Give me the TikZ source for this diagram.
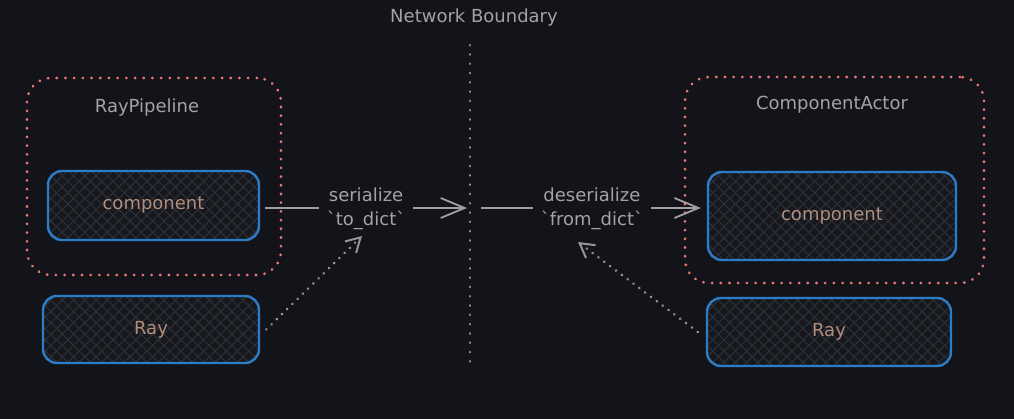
\documentclass[tikz,border=0pt]{standalone}
\usepackage{fontspec}
\newfontfamily\hand{DejaVu Sans}
\usetikzlibrary{arrows.meta,patterns.meta}
\definecolor{bg}{HTML}{121419}
\definecolor{txtgray}{HTML}{A3A3A3}
\definecolor{tan}{HTML}{B08D7C}
\definecolor{redline}{HTML}{F47474}
\definecolor{blueline}{HTML}{2C7CC8}
\definecolor{boxfill}{HTML}{16181D}
\definecolor{hatch}{HTML}{2E3137}
\definecolor{arrowgray}{HTML}{A0A0A0}
\definecolor{dotgray}{HTML}{959595}
\tikzset{
  every node/.style={font=\hand\fontsize{18}{22}\selectfont},
  container/.style={draw=redline, line width=2.8pt, line cap=round,
    dash pattern=on 0.3pt off 8.4pt, rounded corners=24pt, inner sep=0pt},
  titletext/.style={text=txtgray},
  compbox/.style={draw=blueline, line width=2.4pt, rounded corners=14pt,
    inner sep=0pt, text=tan,
    preaction={fill=boxfill},
    preaction={pattern={Lines[angle=45,distance=8pt,line width=1pt]}, pattern color=hatch},
    preaction={pattern={Lines[angle=-45,distance=8pt,line width=1pt]}, pattern color=hatch}},
  flow/.style={draw=arrowgray, line width=1.8pt,
    -{Straight Barb[length=24pt,width=20pt,line width=1.8pt]}},
  flowlabel/.style={fill=bg, text=txtgray, align=center, inner xsep=8pt, inner ysep=2pt,
    font=\hand\fontsize{18}{24}\selectfont},
  dotflow/.style={draw=dotgray, line width=2.6pt, line cap=round,
    dash pattern=on 0.3pt off 7pt,
    -{Straight Barb[length=14pt,width=16pt,line width=2pt]}},
  boundary/.style={draw=dotgray, line width=2.6pt, line cap=round, dash pattern=on 0.3pt off 9pt}
}
\begin{document}
\begin{tikzpicture}[x=1pt,y=-1pt]
\useasboundingbox[fill=bg] (0,0) rectangle (1014,419);

% network boundary
\node[titletext] (nbtitle) at (474,18) {Network Boundary};
\coordinate (btop) at (470,45);
\coordinate (bbot) at (470,370);
\draw[boundary] (btop) -- (bbot);

% left container
\node[container, minimum width=254pt, minimum height=197pt] (raypipe) at (154,176.5) {};
\node[titletext] (raypipetitle) at (147,108) {RayPipeline};
\node[compbox, minimum width=211pt, minimum height=69pt] (lcomp) at (153.5,205.5) {component};
\node[compbox, minimum width=216pt, minimum height=67pt] (lray) at (151,329.5) {Ray};

% right container
\node[container, minimum width=299pt, minimum height=206pt] (compactor) at (834.5,180) {};
\node[titletext] (compactortitle) at (832,105) {ComponentActor};
\node[compbox, minimum width=248pt, minimum height=88pt] (rcomp) at (832,216) {component};
\node[compbox, minimum width=244pt, minimum height=68pt] (rray) at (829,332) {Ray};

% arrows
\coordinate (lend) at (467,208);
\coordinate (rstart) at (481,208);
\coordinate (lstart) at ([xshift=5pt]lcomp.east |- lend);
\coordinate (rend) at ([xshift=-6pt]rcomp.west |- rstart);
\draw[flow] (lstart) -- (lend)
  node[flowlabel, midway, yshift=-1pt] (serlabel) {serialize\\`to\_dict`};
\draw[flow] (rstart) -- (rend)
  node[flowlabel, midway, yshift=-1pt, xshift=1pt] (deslabel) {deserialize\\`from\_dict`};

% dotted ray arrows
\coordinate (lraypt) at ([xshift=6pt]lray.east);
\coordinate (lraytip) at (362,236);
\draw[dotflow] (lraypt) -- (lraytip);
\coordinate (rraypt) at ([xshift=-8pt]rray.west);
\coordinate (rraytip) at (578,242);
\draw[dotflow] (rraypt) -- (rraytip);
\end{tikzpicture}
\end{document}
